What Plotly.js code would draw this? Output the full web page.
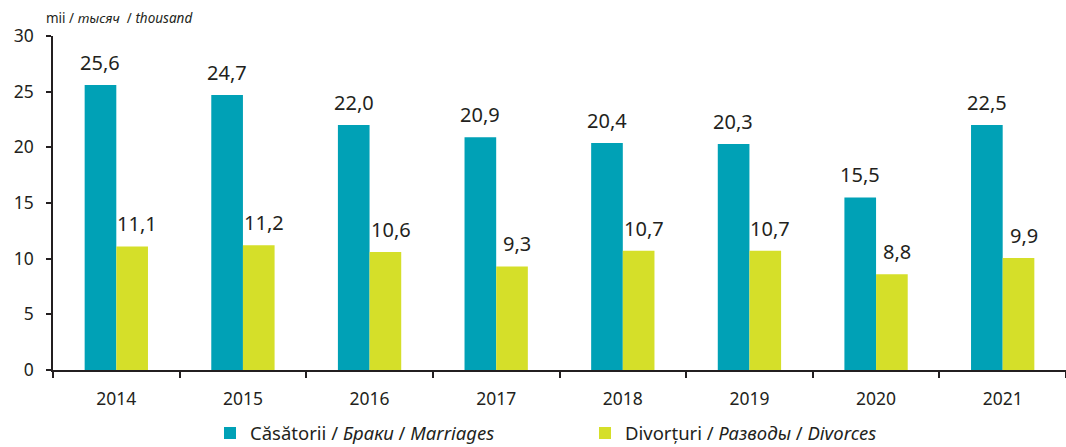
<!DOCTYPE html>
<html>
<head>
<meta charset="utf-8">
<script src="https://cdn.plot.ly/plotly-3.0.1.min.js"></script>
<style>
html,body{margin:0;padding:0;background:#fff;}
#chart{width:1066px;height:447px;}
</style>
</head>
<body>
<div id="chart"></div>
<script>
// Data
const years = ['2014','2015','2016','2017','2018','2019','2020','2021'];
// bar heights as drawn
const marriages = [25.6, 24.7, 22.0, 20.9, 20.4, 20.3, 15.5, 22.0];
const divorces  = [11.1, 11.2, 10.6, 9.3, 10.7, 10.7, 8.6, 10.05];
// value labels as printed
const marriagesLabels = ['25,6','24,7','22,0','20,9','20,4','20,3','15,5','22,5'];
const divorcesLabels  = ['11,1','11,2','10,6','9,3','10,7','10,7','8,8','9,9'];
const seriesNames = ['Căsătorii / <i>Браки</i> / <i>Marriages</i>', 'Divorțuri / <i>Разводы</i> / <i>Divorces</i>'];
const yTicks = [0,5,10,15,20,25,30];
const unitLabel = 'mii / <i>тысяч</i>  / <i>thousand</i>';

const FONT = 'Noto Sans, Open Sans, sans-serif';
const INK = '#231f20';

const traces = [
  {
    type: 'bar', name: seriesNames[0], x: years, y: marriages,
    marker: {color: '#00a1b6'}, hoverinfo: 'x+y'
  },
  {
    type: 'bar', name: seriesNames[1], x: years, y: divorces,
    marker: {color: '#d5df29'}, hoverinfo: 'x+y'
  }
];

// value labels above each bar (x given as category index)
const labelAnn = [];
years.forEach((yr, i) => {
  labelAnn.push({x: i, y: marriages[i], text: marriagesLabels[i], xref: 'x', yref: 'y',
    xshift: -16, yshift: 7, yanchor: 'bottom', xanchor: 'center', showarrow: false,
    font: {family: FONT, size: 20, color: INK}});
  labelAnn.push({x: i, y: divorces[i], text: divorcesLabels[i], xref: 'x', yref: 'y',
    xshift: 21, yshift: 7, yanchor: 'bottom', xanchor: 'center', showarrow: false,
    font: {family: FONT, size: 20, color: INK}});
});

const layout = {
  width: 1066, height: 447,
  margin: {l: 53, r: 0, t: 36, b: 77},
  paper_bgcolor: '#fff', plot_bgcolor: '#fff',
  font: {family: FONT, color: INK, size: 17},
  barmode: 'group', bargap: 0.5, bargroupgap: 0,
  showlegend: true,
  legend: {
    orientation: 'h', xref: 'container', yref: 'container',
    x: 0.197, xanchor: 'left', y: 0.03, yanchor: 'middle',
    entrywidth: 330, entrywidthmode: 'pixels',
    font: {family: FONT, size: 18.5, color: INK},
    itemwidth: 30, traceorder: 'normal'
  },
  xaxis: {
    type: 'category', range: [-0.5, years.length - 0.5], autorange: false,
    showline: true, linecolor: INK, linewidth: 1.5,
    ticks: 'outside', tickson: 'boundaries', ticklen: 6, tickwidth: 1.5, tickcolor: INK,
    tickfont: {family: FONT, size: 17.5, color: INK},
    ticklabelstandoff: 12,
    showgrid: false, zeroline: false, fixedrange: true
  },
  yaxis: {
    range: [0, 30], tickvals: yTicks, showline: true, linecolor: INK, linewidth: 1.5,
    ticks: 'outside', ticklen: 5, tickwidth: 1.5, tickcolor: INK,
    tickfont: {family: FONT, size: 17.5, color: INK},
    ticklabelstandoff: 9,
    showgrid: false, zeroline: false, fixedrange: true
  },
  annotations: [{
    text: unitLabel, xref: 'paper', yref: 'paper', x: -0.009, xanchor: 'left',
    y: 1 + 18/334, yanchor: 'middle', showarrow: false,
    font: {family: FONT, size: 13.5, color: INK}
  }].concat(labelAnn)
};

Plotly.newPlot('chart', traces, layout, {displayModeBar: false});
</script>
</body>
</html>
